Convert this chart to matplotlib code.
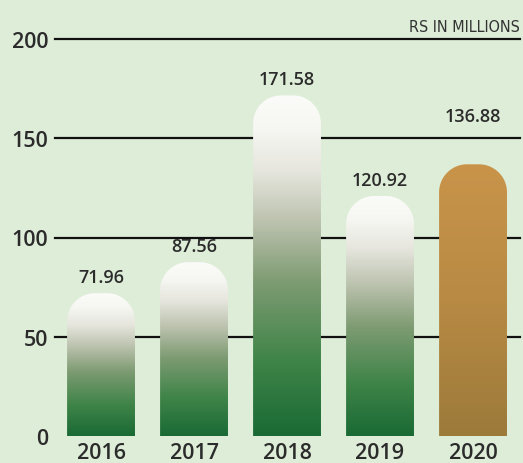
import numpy as np
import matplotlib.pyplot as plt
from matplotlib.colors import LinearSegmentedColormap
from matplotlib.patches import Polygon

years = ["2016", "2017", "2018", "2019", "2020"]
values = [71.96, 87.56, 171.58, 120.92, 136.88]
yticks = [0, 50, 100, 150, 200]
unit_label = "RS IN MILLIONS"

bg = "#deedd8"
text_col = "#2b2b2b"

green = LinearSegmentedColormap.from_list("green_fade", [
    (0.0, "#1a6a35"), (0.22, "#3f8448"), (0.45, "#7d9b72"),
    (0.62, "#b9c0ab"), (0.78, "#e6e6de"), (0.9, "#f6f6f2"), (1.0, "#fbfbf9")])
gold = LinearSegmentedColormap.from_list("gold_fade", [
    (0.0, "#9c7a3a"), (0.5, "#b88a44"), (1.0, "#c9944a")])

fig = plt.figure(figsize=(5.23, 4.64), dpi=100, facecolor=bg)
W, H = 523, 464
ax_l, ax_r, ax_top, ax_bot = 55, 520, 40, 437
ax = fig.add_axes([ax_l / W, (H - ax_bot) / H, (ax_r - ax_l) / W, (ax_bot - ax_top) / H])
ax.set_facecolor(bg)

x0, x1 = -0.495, 4.505
ax.set_xlim(x0, x1)
ax.set_ylim(0, 200)
px_x = (ax_r - ax_l) / (x1 - x0)
px_y = (ax_bot - ax_top) / 200.0

for v in yticks[1:]:
    ax.axhline(v, color="#111111", lw=1.6, zorder=1, clip_on=False)


def rounded_bar(xc, height, width, r_px):
    # rectangle with circular (in pixels) top corners
    rx, ry = r_px / px_x, r_px / px_y
    left, right = xc - width / 2, xc + width / 2
    t = np.linspace(0, np.pi / 2, 30)
    pts = [(left, 0), (left, height - ry)]
    pts += list(zip(left + rx - rx * np.cos(t), height - ry + ry * np.sin(t)))
    pts += list(zip(right - rx + rx * np.sin(t), height - ry + ry * np.cos(t)))
    pts += [(right, height - ry), (right, 0)]
    return Polygon(pts, closed=True)


num_font = dict(family="Open Sans", weight="semibold", color=text_col)

bar_w = 0.73
grad = np.linspace(0, 1, 256).reshape(-1, 1)
label_off = [5, 5, 5, 5, 28]
for i, (yr, v) in enumerate(zip(years, values)):
    cmap = gold if yr == "2020" else green
    shape = rounded_bar(i, v, bar_w, 28)
    shape.set_facecolor("none")
    shape.set_edgecolor("none")
    ax.add_patch(shape)
    im = ax.imshow(grad, cmap=cmap, origin="lower", aspect="auto",
                   extent=(i - bar_w / 2, i + bar_w / 2, 0, v), zorder=2)
    im.set_clip_path(shape)
    ax.annotate(f"{v:.2f}", (i, v), xytext=(0, label_off[i]), textcoords="offset points",
                ha="center", va="bottom", fontsize=13, **num_font)

ax.set_xlim(x0, x1)
ax.set_ylim(0, 200)
ax.set_xticks(range(len(years)))
ax.set_xticklabels(years, fontsize=15.5, **num_font)
ax.set_yticks(yticks)
ax.set_yticklabels([str(t) for t in yticks], fontsize=15.5, **num_font)
ax.tick_params(length=0, pad=5)
ax.tick_params(axis="x", pad=4)
for s in ax.spines.values():
    s.set_visible(False)

fig.text(520 / W, 1 - 27 / H, unit_label, ha="right", va="center", fontsize=11.5,
         color="#333333", family="DejaVu Sans", stretch="condensed")

fig.savefig("out.png", dpi=100, facecolor=bg)
